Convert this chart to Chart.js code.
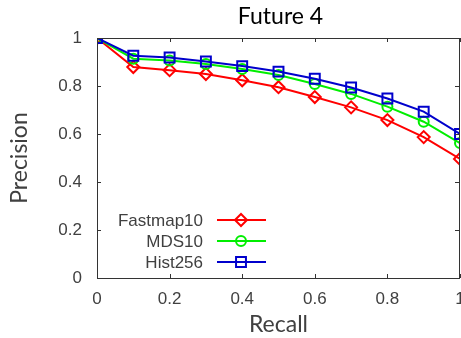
<!DOCTYPE html>
<html>
<head>
<meta charset="utf-8">
<script src="https://cdn.jsdelivr.net/npm/chart.js@4"></script>
<style>
  html, body { margin: 0; padding: 0; background: #ffffff; overflow: hidden; }
  #wrap { width: 475px; height: 338px; }
</style>
</head>
<body>
<div id="wrap"><canvas id="c" width="475" height="338"></canvas></div>
<script>
// ---- data ----
const chartTitle = 'Future 4';
const xTitle = 'Recall';
const yTitle = 'Precision';
const recall = [0, 0.1, 0.2, 0.3, 0.4, 0.5, 0.6, 0.7, 0.8, 0.9, 1.0];
const seriesNames = ['Fastmap10', 'MDS10', 'Hist256'];
const fastmap10 = [1.0, 0.879, 0.866, 0.85, 0.824, 0.795, 0.754, 0.711, 0.658, 0.587, 0.496];
const mds10     = [1.0, 0.914, 0.906, 0.892, 0.871, 0.846, 0.808, 0.767, 0.714, 0.651, 0.562];
const hist256   = [1.0, 0.926, 0.919, 0.902, 0.883, 0.86, 0.83, 0.794, 0.748, 0.693, 0.60];
const xTicks = [0, 0.2, 0.4, 0.6, 0.8, 1];
const yTicks = [0, 0.2, 0.4, 0.6, 0.8, 1];

const colors = ['#ff0000', '#00ee00', '#0000cc'];
const markers = ['rectRot', 'circle', 'rect'];
const radii = [6, 5, 7];

function pts(vals) { return recall.map((x, i) => ({ x: x, y: vals[i] })); }
const allSeries = [fastmap10, mds10, hist256];

const datasets = allSeries.map((vals, i) => ({
  label: seriesNames[i],
  data: pts(vals),
  borderColor: colors[i],
  backgroundColor: 'rgba(0,0,0,0)',
  borderWidth: 2,
  pointStyle: markers[i],
  pointRadius: radii[i],
  pointBorderWidth: 2,
  pointBorderColor: colors[i],
  pointBackgroundColor: 'rgba(0,0,0,0)',
  tension: 0,
  order: 3 - i
}));

const AXIS_COLOR = '#333333';
const TEXT_COLOR = '#404040';

const framePlugin = {
  id: 'frame',
  afterDatasetsDraw(chart) {
    const ctx = chart.ctx;
    const a = chart.chartArea;
    const xs = chart.scales.x, ys = chart.scales.y;
    ctx.save();
    ctx.strokeStyle = AXIS_COLOR;
    ctx.lineWidth = 1;
    ctx.strokeRect(Math.round(a.left) + 0.5, Math.round(a.top) + 0.5,
                   Math.round(a.right - a.left) - 1, Math.round(a.bottom - a.top));
    const L = 4;
    ctx.beginPath();
    xTicks.forEach(v => {
      const px = Math.round(xs.getPixelForValue(v)) + 0.5;
      ctx.moveTo(px, a.bottom); ctx.lineTo(px, a.bottom - L);
      ctx.moveTo(px, a.top); ctx.lineTo(px, a.top + L);
    });
    yTicks.forEach(v => {
      const py = Math.round(ys.getPixelForValue(v)) + 0.5;
      ctx.moveTo(a.left, py); ctx.lineTo(a.left + L, py);
      ctx.moveTo(a.right - 1, py); ctx.lineTo(a.right - 1 - L, py);
    });
    ctx.stroke();

    // title
    ctx.fillStyle = '#000000';
    ctx.font = '23px Lato';
    ctx.textAlign = 'center';
    ctx.textBaseline = 'middle';
    ctx.fillText(chartTitle, (a.left + a.right) / 2 + 2, 17);

    // legend (inside plot, lower left)
    const rowY = [220, 241, 262];
    chart.data.datasets.forEach((ds, i) => {
      const y = rowY[i];
      ctx.fillStyle = TEXT_COLOR;
      ctx.font = '17px "Liberation Sans"';
      ctx.textAlign = 'right';
      ctx.textBaseline = 'middle';
      ctx.fillText(ds.label, 203, y + 1);
      ctx.strokeStyle = ds.borderColor;
      ctx.lineWidth = 2;
      ctx.beginPath();
      ctx.moveTo(217, y); ctx.lineTo(266, y);
      ctx.stroke();
      ctx.fillStyle = 'rgba(0,0,0,0)';
      Chart.helpers.drawPoint(ctx, { pointStyle: ds.pointStyle, radius: ds.pointRadius, rotation: 0, borderWidth: 2 }, 241, y);
    });
    ctx.restore();
  }
};

new Chart(document.getElementById('c'), {
  type: 'line',
  data: { datasets: datasets },
  plugins: [framePlugin],
  options: {
    responsive: false,
    animation: false,
    devicePixelRatio: 1,
    layout: { padding: { left: 0, right: 15, top: 38, bottom: 0 } },
    plugins: { legend: { display: false }, title: { display: false }, tooltip: { enabled: false } },
    scales: {
      x: {
        type: 'linear', min: 0, max: 1,
        afterBuildTicks(s) { s.ticks = xTicks.map(v => ({ value: v })); },
        afterFit(s) { s.height = 60; s.paddingLeft = 0; s.paddingRight = 0; },
        grid: { display: false, drawTicks: false },
        border: { display: false },
        ticks: {
          color: TEXT_COLOR, padding: 11,
          font: { family: '"Liberation Sans"', size: 17 },
          maxRotation: 0, autoSkip: false,
          callback: v => String(v)
        },
        title: { display: true, text: xTitle, color: TEXT_COLOR, font: { family: 'Lato', size: 23 }, padding: { top: 0, bottom: 0 } }
      },
      y: {
        type: 'linear', min: 0, max: 1,
        afterBuildTicks(s) { s.ticks = yTicks.map(v => ({ value: v })); },
        afterFit(s) { s.width = 97; s.paddingTop = 0; s.paddingBottom = 0; },
        grid: { display: false, drawTicks: false },
        border: { display: false },
        ticks: {
          color: TEXT_COLOR, padding: 15,
          font: { family: '"Liberation Sans"', size: 17 },
          autoSkip: false,
          callback: v => String(v)
        },
        title: { display: true, text: yTitle, color: TEXT_COLOR, font: { family: 'Lato', size: 23 }, padding: { top: 6, bottom: 0 } }
      }
    }
  }
});
</script>
</body>
</html>
